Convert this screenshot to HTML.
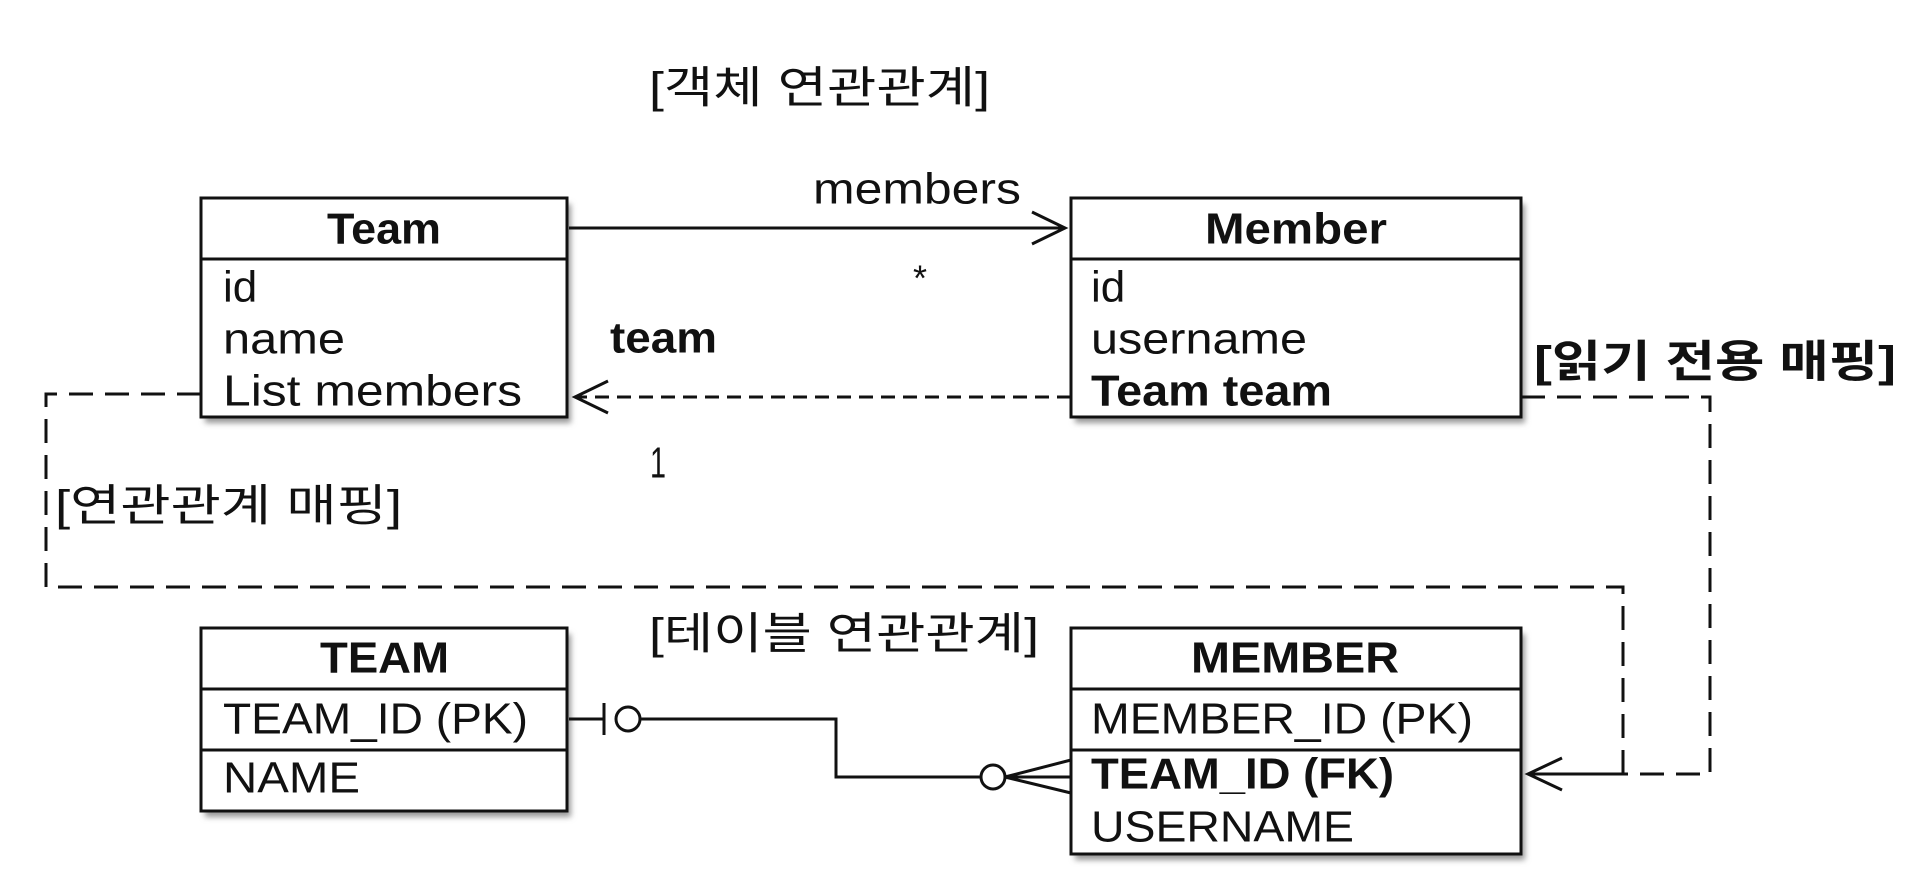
<!DOCTYPE html>
<html><head><meta charset="utf-8"><style>
html,body{margin:0;padding:0;background:#fff;}
svg{display:block;}
text{font-family:"Liberation Sans","Noto Sans CJK KR",sans-serif;fill:#111;}
</style></head><body>
<svg width="1912" height="890" viewBox="0 0 1912 890" xmlns="http://www.w3.org/2000/svg">
<defs>
<filter id="sh" x="-5%" y="-5%" width="115%" height="120%"><feGaussianBlur stdDeviation="3"/></filter>
</defs>
<!-- shadows -->
<g fill="#999" filter="url(#sh)">
<rect x="205" y="204" width="366" height="219"/>
<rect x="1075" y="204" width="450" height="219"/>
<rect x="205" y="634" width="366" height="183"/>
<rect x="1075" y="634" width="450" height="226"/>
</g>
<g fill="#fff" stroke="#111" stroke-width="3">
<rect x="201" y="198" width="366" height="219"/>
<rect x="1071" y="198" width="450" height="219"/>
<rect x="201" y="628" width="366" height="183"/>
<rect x="1071" y="628" width="450" height="226"/>
</g>
<g stroke="#111" stroke-width="3">
<line x1="201" y1="259" x2="567" y2="259"/>
<line x1="1071" y1="259" x2="1521" y2="259"/>
<line x1="201" y1="689" x2="567" y2="689"/>
<line x1="201" y1="750" x2="567" y2="750"/>
<line x1="1071" y1="689" x2="1521" y2="689"/>
<line x1="1071" y1="750" x2="1521" y2="750"/>
</g>
<!-- arrows -->
<g fill="none" stroke="#111" stroke-width="3">
<line x1="569" y1="228" x2="1065" y2="228"/>
<polyline points="1032,212 1065,228 1032,244"/>
<line x1="1071" y1="397" x2="575" y2="397" stroke-dasharray="14,8"/>
<polyline points="608,381 575,397 608,413"/>
<polyline points="201,394 46,394 46,587 1623,587 1623,774 1530,774" stroke-dasharray="24,12"/>
<polyline points="1521,397 1710,397 1710,774 1530,774" stroke-dasharray="24,12"/>
<polyline points="1562,758 1528,774 1562,790"/>
<line x1="569" y1="719" x2="604" y2="719"/>
<line x1="604" y1="703" x2="604" y2="735"/>
<circle cx="628" cy="719" r="12"/>
<polyline points="640,719 836,719 836,777 981,777"/>
<circle cx="993" cy="777" r="12"/>
<line x1="1005" y1="777" x2="1071" y2="777"/>
<line x1="1005" y1="777" x2="1071" y2="760"/>
<line x1="1005" y1="777" x2="1071" y2="793"/>
</g>
<!-- text -->
<g dominant-baseline="central" font-size="44">
<text x="649" y="88" textLength="341" lengthAdjust="spacingAndGlyphs">[객체 연관관계]</text>
<text x="813" y="189" textLength="208" lengthAdjust="spacingAndGlyphs">members</text>
<text x="913" y="278" font-size="36">*</text>
<text x="650" y="463" textLength="16" lengthAdjust="spacingAndGlyphs">1</text>
<text x="327" y="229" font-weight="bold" textLength="114" lengthAdjust="spacingAndGlyphs">Team</text>
<text x="1205" y="229" font-weight="bold" textLength="182" lengthAdjust="spacingAndGlyphs">Member</text>
<text x="223" y="287">id</text>
<text x="223" y="339" textLength="122" lengthAdjust="spacingAndGlyphs">name</text>
<text x="223" y="391" textLength="299" lengthAdjust="spacingAndGlyphs">List members</text>
<text x="610" y="338" font-weight="bold" textLength="107" lengthAdjust="spacingAndGlyphs">team</text>
<text x="1091" y="287">id</text>
<text x="1091" y="339" textLength="216" lengthAdjust="spacingAndGlyphs">username</text>
<text x="1091" y="391" font-weight="bold" textLength="241" lengthAdjust="spacingAndGlyphs">Team team</text>
<text x="1534" y="362" font-weight="bold" textLength="362" lengthAdjust="spacingAndGlyphs">[읽기 전용 매핑]</text>
<text x="55" y="506" textLength="347" lengthAdjust="spacingAndGlyphs">[연관관계 매핑]</text>
<text x="649" y="634" textLength="390" lengthAdjust="spacingAndGlyphs">[테이블 연관관계]</text>
<text x="320" y="658" font-weight="bold" textLength="129" lengthAdjust="spacingAndGlyphs">TEAM</text>
<text x="223" y="719" textLength="305" lengthAdjust="spacingAndGlyphs">TEAM_ID (PK)</text>
<text x="223" y="778" textLength="137" lengthAdjust="spacingAndGlyphs">NAME</text>
<text x="1191" y="658" font-weight="bold" textLength="208" lengthAdjust="spacingAndGlyphs">MEMBER</text>
<text x="1091" y="719" textLength="382" lengthAdjust="spacingAndGlyphs">MEMBER_ID (PK)</text>
<text x="1091" y="774" font-weight="bold" textLength="303" lengthAdjust="spacingAndGlyphs">TEAM_ID (FK)</text>
<text x="1091" y="827" textLength="263" lengthAdjust="spacingAndGlyphs">USERNAME</text>
</g>
</svg>
</body></html>
